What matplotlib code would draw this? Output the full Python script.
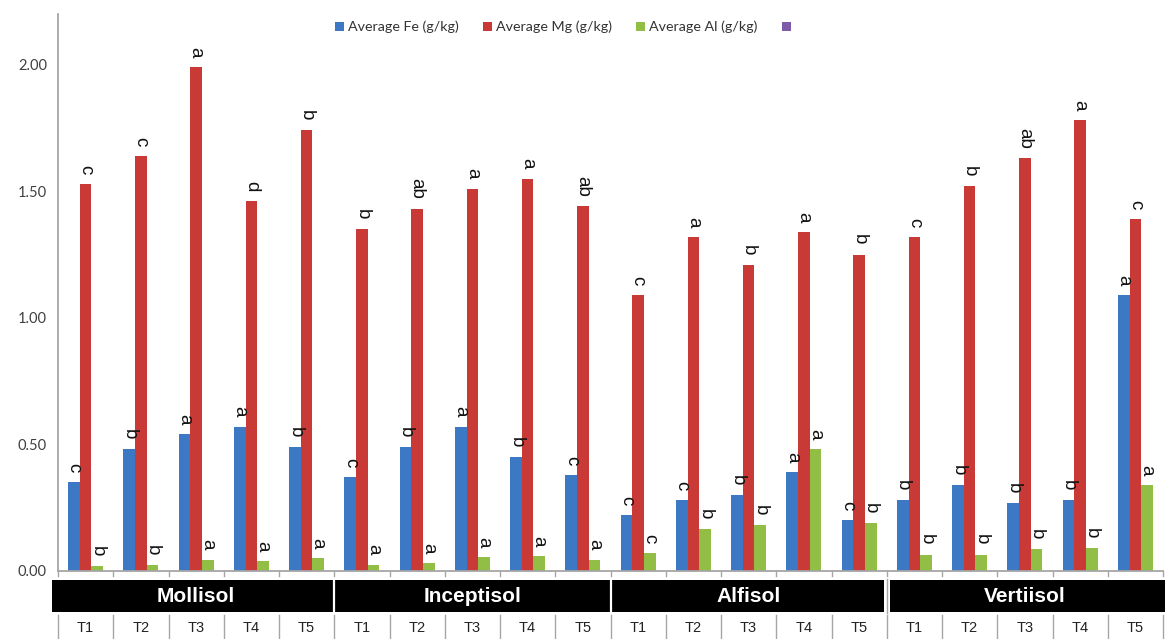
import matplotlib
matplotlib.use("Agg")
import matplotlib.pyplot as plt
import matplotlib.transforms as mtransforms
from matplotlib.patches import Rectangle, Patch
from matplotlib.lines import Line2D
import numpy as np

# ---- data ----
soils = ["Mollisol", "Inceptisol", "Alfisol", "Vertiisol"]
treatments = ["T1", "T2", "T3", "T4", "T5"]

fe = [0.35, 0.48, 0.54, 0.57, 0.49,
      0.37, 0.49, 0.57, 0.45, 0.38,
      0.22, 0.28, 0.30, 0.39, 0.20,
      0.28, 0.34, 0.27, 0.28, 1.09]
mg = [1.53, 1.64, 1.99, 1.46, 1.74,
      1.35, 1.43, 1.51, 1.55, 1.44,
      1.09, 1.32, 1.21, 1.34, 1.25,
      1.32, 1.52, 1.63, 1.78, 1.39]
al = [0.02, 0.025, 0.045, 0.04, 0.05,
      0.025, 0.03, 0.055, 0.06, 0.045,
      0.07, 0.165, 0.18, 0.48, 0.19,
      0.065, 0.065, 0.085, 0.09, 0.34]

fe_letters = ["c", "b", "a", "a", "b",
              "c", "b", "a", "b", "c",
              "c", "c", "b", "a", "c",
              "b", "b", "b", "b", "a"]
mg_letters = ["c", "c", "a", "d", "b",
              "b", "ab", "a", "a", "ab",
              "c", "a", "b", "a", "b",
              "c", "b", "ab", "a", "c"]
al_letters = ["b", "b", "a", "a", "a",
              "a", "a", "a", "a", "a",
              "c", "b", "b", "a", "b",
              "b", "b", "b", "b", "a"]

series_names = ["Average Fe (g/kg)", "Average Mg (g/kg)", "Average Al (g/kg)"]
yticks = [0.0, 0.5, 1.0, 1.5, 2.0]

colors = ["#3C78C3", "#C93A37", "#93BE45"]
extra_color = "#7D5BA6"

W, H = 1165, 639
fig = plt.figure(figsize=(W / 100, H / 100), dpi=100)
ax = fig.add_axes([58 / W, (H - 571) / H, (1163 - 58) / W, (571 - 14) / H])

n = len(fe)
x = np.arange(n)
bw = 0.21
values = [fe, mg, al]
letters = [fe_letters, mg_letters, al_letters]
for k, (vals, labs) in enumerate(zip(values, letters)):
    pos = x + (k - 1) * bw
    bars = ax.bar(pos, vals, width=bw, color=colors[k], edgecolor="none", zorder=2)
    for b, v, lab in zip(bars, vals, labs):
        ax.annotate(lab, (b.get_x() + b.get_width() / 2, v),
                    xytext=(0, 7), textcoords="offset points",
                    ha="center", va="bottom", rotation=-90,
                    fontsize=13.5, family="Liberation Sans", color="#111111")

ax.set_xlim(-0.5, n - 0.5)
ax.set_ylim(0, 2.2)
ax.set_yticks(yticks)
ax.set_yticklabels([f"{t:.2f}" for t in yticks], fontsize=10.5, color="#404040",
                   family="Lato")
ax.tick_params(axis="y", length=0, pad=8)
ax.set_xticks([])
for s in ["top", "right"]:
    ax.spines[s].set_visible(False)
for s in ["left", "bottom"]:
    ax.spines[s].set_color("#A6A6A6")
    ax.spines[s].set_linewidth(1.3)

# category table under the axis
tr = mtransforms.blended_transform_factory(ax.transData, fig.transFigure)
def fy(py):
    return (H - py) / H

# short separators below the axis line
for b in np.arange(-0.5, n, 1.0):
    ax.add_line(Line2D([b, b], [fy(571), fy(576)], transform=tr, color="#A6A6A6",
                       lw=1.0, clip_on=False))

# black soil band
band_left = -0.5 - 6 / 55.3
ax.add_patch(Rectangle((band_left, fy(612)), (n - 0.5) - band_left + 0.1, fy(580) - fy(612),
                       transform=tr, facecolor="black", edgecolor="none", clip_on=False))
for g, name in enumerate(soils):
    ax.text(g * 5 + 2, fy(596), name, transform=tr, ha="center", va="center",
            color="white", fontsize=15, fontweight="bold",
            family=["Liberation Sans Narrow", "Liberation Sans"], clip_on=False)
for g in range(1, len(soils)):
    xb = g * 5 - 0.5
    if g == 3:
        ax.add_patch(Rectangle((xb - 0.05, fy(613)), 0.1, fy(579) - fy(613), transform=tr,
                               facecolor="white", edgecolor="none", clip_on=False, zorder=5))
        ax.add_line(Line2D([xb, xb], [fy(613), fy(579)], transform=tr, color="#A6A6A6",
                           lw=1.0, clip_on=False, zorder=6))
    else:
        ax.add_line(Line2D([xb, xb], [fy(613), fy(579)], transform=tr, color="white",
                           lw=1.6, clip_on=False, zorder=5))

# treatment row
for i in range(n):
    ax.text(i, fy(628), treatments[i % 5], transform=tr, ha="center", va="center",
            color="#222222", fontsize=10.5,
            family=["Liberation Sans Narrow", "Liberation Sans"], clip_on=False)
for b in np.arange(-0.5, n + 0.5, 1.0):
    ax.add_line(Line2D([b, b], [fy(639), fy(615)], transform=tr, color="#A6A6A6",
                       lw=1.0, clip_on=False))

# legend
handles = [Patch(facecolor=c, edgecolor="none") for c in colors]
handles.append(Patch(facecolor=extra_color, edgecolor="none"))
leg = fig.legend(handles, series_names + [""], loc="center",
                 bbox_to_anchor=(565 / W, fy(27)), ncol=4, frameon=False,
                 handlelength=0.6, handleheight=0.6,
                 handletextpad=0.3, columnspacing=1.7,
                 prop={"family": "Lato", "size": 10.3})
for t in leg.get_texts():
    t.set_color("#333333")

fig.savefig("out.png", dpi=100, facecolor="white")
